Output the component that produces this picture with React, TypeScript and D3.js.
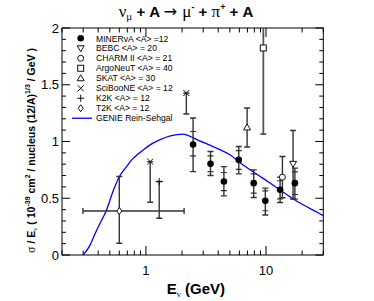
import * as d3 from 'd3';

// MINERvA points
const minervaE = [2.47, 3.45, 4.46, 5.93, 7.9, 9.87, 13.1, 17.4];
const minervaV = [0.974, 0.803, 0.647, 0.838, 0.633, 0.477, 0.574, 0.633];
const minervaLo = [0.735, 0.70, 0.521, 0.715, 0.506, 0.353, 0.462, 0.492];
const minervaHi = [1.207, 0.912, 0.779, 0.956, 0.75, 0.589, 0.686, 0.765];
const minervaStatLo = [0.874, 0.735, 0.567, 0.755, 0.545, 0.39, 0.494, 0.533];
const minervaStatHi = [1.088, 0.874, 0.727, 0.919, 0.715, 0.565, 0.654, 0.733];

// other experiments: [E, value, low, high]
const bebc = [16.8, 0.803, 0.494, 1.097];
const charm = [13.7, 0.686, 0.504, 0.868];
const argoneut = [9.5, 1.824, 1.065, 2.6];
const skat = [6.96, 1.124, 0.951, 1.295];
const sciboone = [[1.085, 0.823, 0.465], [2.17, 1.427, 1.242]];
const k2k = [1.29, 0.647, 0.324];
const t2k = [0.6, 0.388, 0.103, 0.691, 0.299, 2.08];

// GENIE Rein-Sehgal curve
const genieE = [0.3, 0.34, 0.378, 0.42, 0.466, 0.536, 0.6, 0.68, 0.761, 0.85, 0.95, 1.1, 1.3, 1.6, 2.04, 2.5, 2.8, 3.28, 4.0, 5.0, 6.5, 9.4, 13.1, 19, 27.6, 30];
const genieV = [0, 0.08, 0.19, 0.29, 0.388, 0.57, 0.69, 0.77, 0.838, 0.885, 0.926, 0.975, 1.015, 1.05, 1.065, 1.03, 1.005, 0.975, 0.935, 0.883, 0.79, 0.677, 0.573, 0.46, 0.368, 0.347];

const legendLabels = ['MINERvA <A> =12', 'BEBC <A> = 20', 'CHARM II <A> = 21', 'ArgoNeuT <A> = 40', 'SKAT <A> = 30', 'SciBooNE <A> = 12', 'K2K <A> = 12', 'T2K <A> = 12', 'GENIE Rein-Sehgal'];
const legendMarks = ['dot', 'tdown', 'circle', 'square', 'tup', 'x', 'plus', 'diamond', 'line'];

const xMajor = [1, 10];
const xMinor = [0.2, 0.3, 0.4, 0.5, 0.6, 0.7, 0.8, 0.9, 2, 3, 4, 5, 6, 7, 8, 9, 20, 30];
const yMajor = [0, 0.5, 1, 1.5, 2];

const W = 374, H = 301;
const L = 62, R = 323.3, T = 28, B = 255;
const font = 'Liberation Sans, Arial, sans-serif';
const serif = 'Liberation Serif, serif';
const ebColor = '#333';

function Marker({ type, x, y }: { type: string; x: number; y: number }) {
  const s = 3;
  const st = { fill: 'white', stroke: '#111', strokeWidth: 1 };
  if (type === 'dot') return <circle cx={x} cy={y} r={3.3} fill="black" />;
  if (type === 'circle') return <circle cx={x} cy={y} r={s} {...st} />;
  if (type === 'square') return <rect x={x - s} y={y - s} width={2 * s} height={2 * s} {...st} />;
  if (type === 'tdown') return <path d={`M${x - 3.5},${y - 2.5}L${x + 3.5},${y - 2.5}L${x},${y + 3.5}Z`} {...st} />;
  if (type === 'tup') return <path d={`M${x - 3.5},${y + 2.5}L${x + 3.5},${y + 2.5}L${x},${y - 3.5}Z`} {...st} />;
  if (type === 'diamond') return <path d={`M${x},${y - 3.5}L${x + 2.5},${y}L${x},${y + 3.5}L${x - 2.5},${y}Z`} {...st} />;
  if (type === 'x') return <path d={`M${x - 3},${y - 3}L${x + 3},${y + 3}M${x - 3},${y + 3}L${x + 3},${y - 3}`} stroke="#111" strokeWidth={1} />;
  if (type === 'plus') return <path d={`M${x - 3.5},${y}L${x + 3.5},${y}M${x},${y - 3.5}L${x},${y + 3.5}`} stroke="#111" strokeWidth={1} />;
  return null;
}

function VBar({ x, y0, y1, caps = true }: { x: number; y0: number; y1: number; caps?: boolean }) {
  return (
    <g stroke={ebColor} strokeWidth={1.4}>
      <line x1={x} x2={x} y1={y0} y2={y1} />
      {caps && <line x1={x - 3} x2={x + 3} y1={y0} y2={y0} />}
      {caps && <line x1={x - 3} x2={x + 3} y1={y1} y2={y1} />}
    </g>
  );
}

export default function App() {
  const x = d3.scaleLog().domain([0.2, 30]).range([L, R]);
  const y = d3.scaleLinear().domain([0, 2]).range([B, T]);
  const line = d3.line<number>().x((d, i) => x(genieE[i])).y(d => y(d)).curve(d3.curveMonotoneX);
  const yMinor = d3.range(0, 2.001, 0.1).filter(v => Math.abs(v * 2 - Math.round(v * 2)) > 1e-6);

  return (
    <svg width={W} height={H} style={{ position: 'absolute', left: 0, top: 0 }} fontFamily={font}>
      <rect width={W} height={H} fill="white" />
      <defs>
        <clipPath id="plot"><rect x={L} y={T} width={R - L} height={B - T} /></clipPath>
      </defs>

      {/* title */}
      <text x={186} y={17} textAnchor="middle" fontSize={15} fontWeight="bold">
        <tspan fontFamily={serif} fontWeight="normal" fontSize={17}>ν</tspan>
        <tspan fontFamily={serif} fontWeight="normal" fontSize={11} dy={3}>μ</tspan>
        <tspan dy={-3}> + A </tspan>
        <tspan fontFamily="DejaVu Sans, sans-serif" fontWeight="normal" fontSize={16}> → </tspan>
        <tspan fontFamily={serif} fontWeight="normal" fontSize={17}>μ</tspan>
        <tspan fontSize={9} dy={-7}>-</tspan>
        <tspan dy={7}> + </tspan>
        <tspan fontFamily={serif} fontWeight="normal" fontSize={17}>π</tspan>
        <tspan fontSize={9} dy={-7}>+</tspan>
        <tspan dy={7}> + A</tspan>
      </text>

      {/* axes frame */}
      <rect x={L} y={T} width={R - L} height={B - T} fill="none" stroke="black" strokeWidth={1} />

      {/* ticks */}
      <g stroke="black" strokeWidth={1}>
        {xMajor.map(v => (
          <g key={v}>
            <line x1={x(v)} x2={x(v)} y1={B} y2={B - 9} />
            <line x1={x(v)} x2={x(v)} y1={T} y2={T + 9} />
          </g>
        ))}
        {xMinor.map(v => (
          <g key={v}>
            <line x1={x(v)} x2={x(v)} y1={B} y2={B - 4.5} />
            <line x1={x(v)} x2={x(v)} y1={T} y2={T + 4.5} />
          </g>
        ))}
        {yMajor.map(v => (
          <g key={v}>
            <line x1={L} x2={L + 8} y1={y(v)} y2={y(v)} />
            <line x1={R} x2={R - 8} y1={y(v)} y2={y(v)} />
          </g>
        ))}
        {yMinor.map(v => (
          <g key={v}>
            <line x1={L} x2={L + 4} y1={y(v)} y2={y(v)} />
            <line x1={R} x2={R - 4} y1={y(v)} y2={y(v)} />
          </g>
        ))}
      </g>
      {xMajor.map(v => (
        <text key={v} x={x(v)} y={275} textAnchor="middle" fontSize={13}>{v}</text>
      ))}
      {yMajor.map(v => (
        <text key={v} x={L - 3} y={y(v) + 4.5} textAnchor="end" fontSize={13}>{v}</text>
      ))}

      {/* axis titles */}
      <text x={225} y={294} textAnchor="end" fontSize={15} fontWeight="bold">
        E<tspan fontSize={9} dy={3} fontFamily={serif} fontWeight="normal">ν</tspan>
        <tspan dy={-3}> (GeV)</tspan>
      </text>
      <text transform="translate(35,253) rotate(-90)" textAnchor="start" fontSize={10.5} fontWeight="bold">
        <tspan fontFamily={serif} fontWeight="normal" fontSize={12}>σ</tspan>
        <tspan> / E</tspan>
        <tspan fontSize={7} dy={2} fontFamily={serif} fontWeight="normal">ν</tspan>
        <tspan dy={-2}> ( 10</tspan>
        <tspan fontSize={7} dy={-5}>-39</tspan>
        <tspan dy={5}> cm</tspan>
        <tspan fontSize={7} dy={-5}>2</tspan>
        <tspan dy={5}> / nucleus (12/A)</tspan>
        <tspan fontSize={7} dy={-5}>1/3</tspan>
        <tspan dy={5}> / GeV )</tspan>
      </text>

      {/* data */}
      <g clipPath="url(#plot)">
        <path d={line(genieV) || ''} fill="none" stroke="#0000ff" strokeWidth={1.3} />

        {/* T2K with horizontal error */}
        <g stroke={ebColor} strokeWidth={1.4}>
          <line x1={x(t2k[4])} x2={x(t2k[5])} y1={y(t2k[1])} y2={y(t2k[1])} />
          <line x1={x(t2k[4])} x2={x(t2k[4])} y1={y(t2k[1]) - 3} y2={y(t2k[1]) + 3} />
          <line x1={x(t2k[5])} x2={x(t2k[5])} y1={y(t2k[1]) - 3} y2={y(t2k[1]) + 3} />
        </g>
        <VBar x={x(t2k[0])} y0={y(t2k[2])} y1={y(t2k[3])} />
        <Marker type="diamond" x={x(t2k[0])} y={y(t2k[1])} />

        {sciboone.map((p, i) => (
          <g key={i}>
            <VBar x={x(p[0])} y0={y(p[1])} y1={y(p[2])} />
            <Marker type="x" x={x(p[0])} y={y(p[1])} />
          </g>
        ))}
        <VBar x={x(k2k[0])} y0={y(k2k[1])} y1={y(k2k[2])} />
        <Marker type="plus" x={x(k2k[0])} y={y(k2k[1])} />

        <VBar x={x(skat[0])} y0={y(skat[2])} y1={y(skat[3])} />
        <Marker type="tup" x={x(skat[0])} y={y(skat[1])} />

        <g stroke="#555" strokeWidth={1.8}>
          <line x1={x(argoneut[0])} x2={x(argoneut[0])} y1={y(argoneut[2])} y2={y(argoneut[3])} />
          <line x1={x(argoneut[0]) - 3} x2={x(argoneut[0]) + 3} y1={y(argoneut[2])} y2={y(argoneut[2])} />
        </g>
        <Marker type="square" x={x(argoneut[0])} y={y(argoneut[1])} />

        <VBar x={x(charm[0])} y0={y(charm[2])} y1={y(charm[3])} />
        <VBar x={x(bebc[0])} y0={y(bebc[2])} y1={y(bebc[3])} />

        {minervaE.map((e, i) => (
          <g key={i}>
            <VBar x={x(e)} y0={y(minervaLo[i])} y1={y(minervaHi[i])} />
            <g stroke={ebColor} strokeWidth={1.2}>
              <line x1={x(e) - 3} x2={x(e) + 3} y1={y(minervaStatLo[i])} y2={y(minervaStatLo[i])} />
              <line x1={x(e) - 3} x2={x(e) + 3} y1={y(minervaStatHi[i])} y2={y(minervaStatHi[i])} />
            </g>
            <Marker type="dot" x={x(e)} y={y(minervaV[i])} />
          </g>
        ))}
        <Marker type="circle" x={x(charm[0])} y={y(charm[1])} />
        <Marker type="tdown" x={x(bebc[0])} y={y(bebc[1])} />
      </g>

      {/* legend */}
      {legendLabels.map((lab, i) => {
        const ly = 38.3 + i * 9.99;
        return (
          <g key={lab}>
            {legendMarks[i] === 'line'
              ? <line x1={72} x2={92} y1={ly} y2={ly} stroke="#0000ff" strokeWidth={1.3} />
              : <Marker type={legendMarks[i]} x={80.7} y={ly} />}
            <text x={96} y={ly + 3.2} fontSize={8.6}>{lab}</text>
          </g>
        );
      })}
    </svg>
  );
}
